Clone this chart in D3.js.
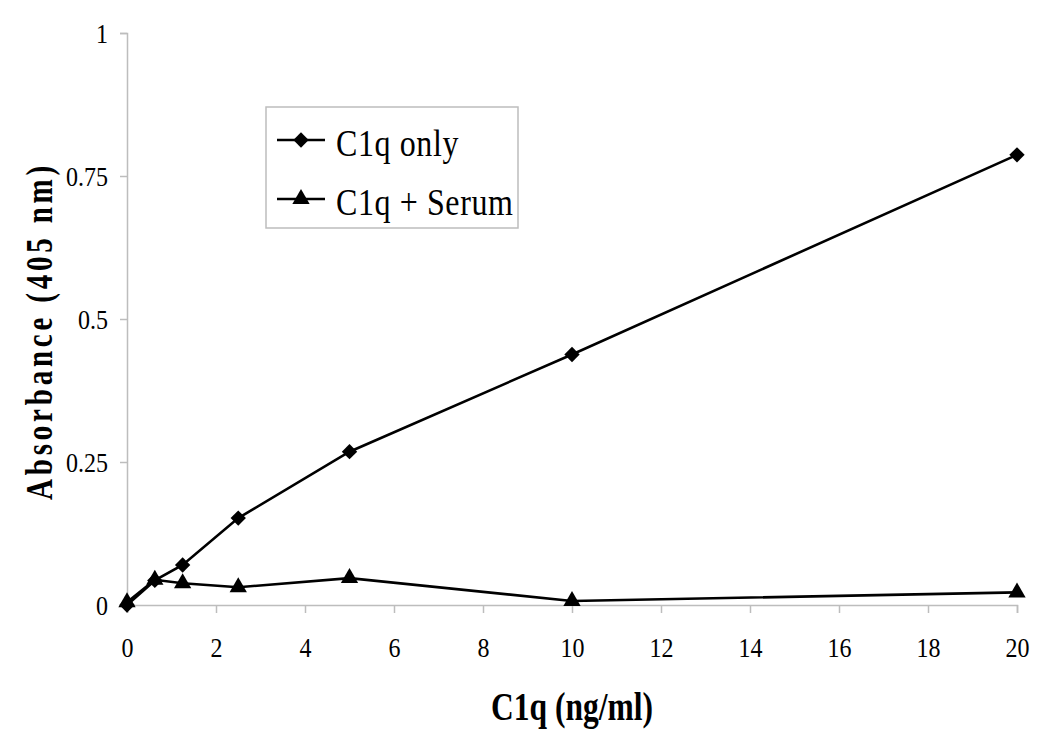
<!DOCTYPE html>
<html>
<head>
<meta charset="utf-8">
<script src="https://cdn.jsdelivr.net/npm/d3@7"></script>
<style>
  body { margin: 0; background: #fff; }
</style>
</head>
<body>
<svg width="1050" height="741"></svg>
<script>
const conc = [0, 0.625, 1.25, 2.5, 5, 10, 20]
const c1qOnly = [0, 0.043, 0.070, 0.152, 0.268, 0.438, 0.787]
const c1qSerum = [0.005, 0.044, 0.038, 0.031, 0.047, 0.007, 0.022]
const xTicks = [0, 2, 4, 6, 8, 10, 12, 14, 16, 18, 20]
const yTicks = [0, 0.25, 0.5, 0.75, 1]
const seriesNames = ['C1q only', 'C1q + Serum']

const serif = 'Liberation Serif'
const svg = d3.select('svg')
const margin = {top: 33, right: 33, bottom: 136, left: 127}
const width = +svg.attr('width')
const height = +svg.attr('height')
const innerWidth = width - margin.left - margin.right
const innerHeight = height - margin.top - margin.bottom

const x = d3.scaleLinear().domain([0, 20]).range([0, innerWidth])
const y = d3.scaleLinear().domain([0, 1]).range([innerHeight, 0])

const g = svg.append('g')
  .attr('transform', `translate(${margin.left}, ${margin.top})`)

// axes (text is a bit taller than normal Times, so stretch it vertically)
const xAxis = g.append('g')
  .attr('transform', `translate(0, ${innerHeight})`)
  .call(d3.axisBottom(x).tickValues(xTicks).tickSize(8).tickFormat(d3.format('d')))
const yAxis = g.append('g')
  .call(d3.axisLeft(y).tickValues(yTicks).tickSize(7).tickFormat(d => d))

for (const ax of [xAxis, yAxis]) {
  ax.attr('font-family', serif).attr('font-size', 24)
  ax.select('.domain').attr('stroke', '#bdbdbd').attr('stroke-width', 1.5)
  ax.selectAll('.tick line').attr('stroke', '#bdbdbd').attr('stroke-width', 1.5)
  ax.selectAll('.tick text').attr('fill', '#000').attr('dy', null)
}
xAxis.selectAll('.tick text')
  .attr('y', 0)
  .attr('transform', 'translate(0, 52) scale(1, 1.14)')
yAxis.selectAll('.tick text')
  .attr('x', 0)
  .attr('transform', 'translate(-19, 9) scale(1, 1.14)')

// axis titles
svg.append('text')
  .attr('transform', `translate(${margin.left + innerWidth / 2}, 720) scale(1, 1.3)`)
  .attr('text-anchor', 'middle')
  .attr('font-family', serif)
  .attr('font-size', 31.5)
  .attr('font-weight', 'bold')
  .text('C1q (ng/ml)')

svg.append('text')
  .attr('transform', 'translate(52, 331) rotate(-90) scale(1, 1.3)')
  .attr('text-anchor', 'middle')
  .attr('font-family', serif)
  .attr('font-size', 29)
  .attr('font-weight', 'bold')
  .attr('letter-spacing', 3.8)
  .text('Absorbance (405 nm)')

// lines
const line = d3.line()
  .x((d, i) => x(conc[i]))
  .y(d => y(d))

const diamond = d3.symbol().type(d3.symbolDiamond2).size(150)
const triangle = d3.symbol().type(d3.symbolTriangle).size(130)

function drawSeries(values, sym) {
  g.append('path')
    .datum(values)
    .attr('fill', 'none')
    .attr('stroke', '#000')
    .attr('stroke-width', 2.6)
    .attr('d', line)
  g.selectAll(null)
    .data(values)
    .join('path')
    .attr('transform', (d, i) => `translate(${x(conc[i])}, ${y(d)})`)
    .attr('d', sym)
    .attr('fill', '#000')
}

drawSeries(c1qOnly, diamond)
drawSeries(c1qSerum, triangle)

// legend
const legend = svg.append('g').attr('transform', 'translate(266, 107)')
legend.append('rect')
  .attr('width', 252)
  .attr('height', 121)
  .attr('fill', '#fff')
  .attr('stroke', '#bdbdbd')
  .attr('stroke-width', 1.5)

const syms = [diamond, triangle]
seriesNames.forEach((name, i) => {
  const cy = 33 + i * 59
  legend.append('line')
    .attr('x1', 11).attr('x2', 59)
    .attr('y1', cy).attr('y2', cy)
    .attr('stroke', '#000').attr('stroke-width', 2.6)
  legend.append('path')
    .attr('transform', `translate(35, ${cy})`)
    .attr('d', syms[i])
    .attr('fill', '#000')
  legend.append('text')
    .attr('transform', `translate(70, ${cy + 15.5}) scale(1, 1.2)`)
    .attr('font-family', serif)
    .attr('font-size', 32)
    .attr('letter-spacing', 0.6)
    .text(name)
})
</script>
</body>
</html>
